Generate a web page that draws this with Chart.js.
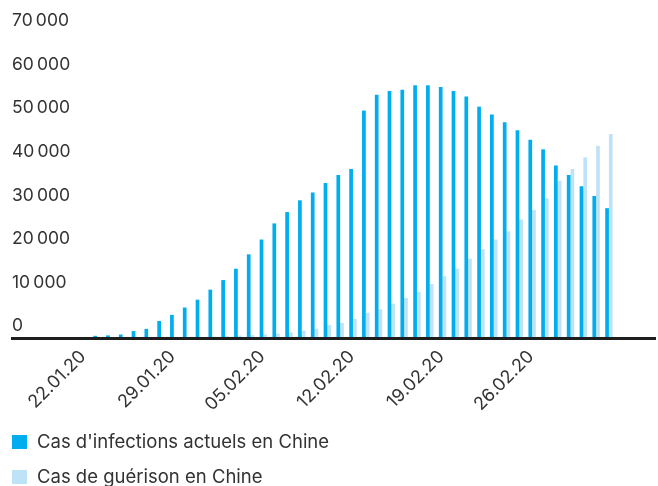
<!DOCTYPE html>
<html>
<head>
<meta charset="utf-8">
<script src="https://cdn.jsdelivr.net/npm/chart.js@4"></script>
<style>
  html, body { margin: 0; padding: 0; background: #fff; }
  #wrap { width: 658px; height: 486px; }
</style>
</head>
<body>
<div id="wrap"><canvas id="chart"></canvas></div>
<script>
const dates = [
  '22.01.20', '23.01.20', '24.01.20', '25.01.20', '26.01.20', '27.01.20', '28.01.20',
  '29.01.20', '30.01.20', '31.01.20', '01.02.20', '02.02.20', '03.02.20', '04.02.20',
  '05.02.20', '06.02.20', '07.02.20', '08.02.20', '09.02.20', '10.02.20', '11.02.20',
  '12.02.20', '13.02.20', '14.02.20', '15.02.20', '16.02.20', '17.02.20', '18.02.20',
  '19.02.20', '20.02.20', '21.02.20', '22.02.20', '23.02.20', '24.02.20', '25.02.20',
  '26.02.20', '27.02.20', '28.02.20', '29.02.20', '01.03.20', '02.03.20'
];

const infections = [
  500, 600, 800, 1600, 2100, 3900, 5300, 7000, 8800, 11100,
  13300, 15900, 19200, 22600, 26300, 28900, 31600, 33400, 35600, 37400,
  38800, 52200, 55800, 56700, 57000, 58000, 58000, 57600, 56700, 55400,
  53100, 51300, 49500, 47700, 45500, 43300, 39600, 37400, 34800, 32600,
  29800
];

const recoveries = [
  30, 30, 40, 40, 50, 60, 100, 120, 250, 330,
  450, 580, 680, 800, 1000, 1300, 1700, 2150, 3000, 3450,
  4400, 5800, 6600, 7900, 9200, 10600, 12400, 14200, 15900, 18200,
  20400, 22600, 24500, 27200, 29400, 32100, 36100, 38800, 41500, 44100,
  46800
];

const seriesNames = ["Cas d'infections actuels en Chine", 'Cas de guérison en Chine'];
const seriesColors = ['#00aeef', '#bfe3f6'];
const labelEvery = 7;
const yTicks = [0, 10000, 20000, 30000, 40000, 50000, 60000, 70000];

const FONT = 'Inter, "Noto Sans", sans-serif';
const TEXT = '#333333';

// legend drawn as two stacked rows under the axis labels
const stackedLegend = {
  id: 'stackedLegend',
  afterDraw(chart) {
    const ctx = chart.ctx;
    ctx.save();
    ctx.font = '18.5px ' + FONT;
    ctx.textBaseline = 'middle';
    ctx.textAlign = 'left';
    chart.data.datasets.forEach((ds, i) => {
      const y = 442 + i * 35;
      ctx.fillStyle = ds.backgroundColor;
      ctx.fillRect(12, y - 7, 15, 14);
      ctx.fillStyle = TEXT;
      ctx.fillText(ds.label, 37, y);
    });
    ctx.restore();
  }
};

const ctx = document.getElementById('chart').getContext('2d');
new Chart(ctx, {
  type: 'bar',
  data: {
    datasets: [
      {
        label: seriesNames[0],
        data: infections.map((v, i) => ({ x: i, y: v })),
        backgroundColor: seriesColors[0]
      },
      {
        label: seriesNames[1],
        data: recoveries.map((v, i) => ({ x: i, y: v })),
        backgroundColor: seriesColors[1]
      }
    ]
  },
  options: {
    responsive: true,
    maintainAspectRatio: false,
    animation: false,
    datasets: {
      bar: { categoryPercentage: 0.58, barPercentage: 1 }
    },
    layout: { padding: { left: 12, right: 3, top: 33, bottom: 70 } },
    plugins: {
      legend: { display: false },
      tooltip: { enabled: false }
    },
    scales: {
      x: {
        type: 'linear',
        min: -6.64,
        max: 43.6,
        offset: false,
        grid: { display: false },
        border: { display: true, color: '#1e1e1e', width: 3, z: 1 },
        afterBuildTicks: s => {
          s.ticks = dates.map((d, i) => i).filter(i => i % labelEvery === 0).map(v => ({ value: v }));
        },
        afterFit: s => { s.height = 78; },
        ticks: {
          autoSkip: false,
          minRotation: 45,
          maxRotation: 45,
          padding: 0,
          labelOffset: -14,
          color: TEXT,
          font: { family: FONT, size: 18 },
          callback: v => dates[v]
        }
      },
      y: {
        min: 0,
        max: 70000,
        grid: { display: false },
        border: { display: false },
        afterBuildTicks: s => { s.ticks = yTicks.map(v => ({ value: v })); },
        afterFit: s => { s.width = 0; },
        ticks: {
          mirror: true,
          padding: 0,
          labelOffset: -12,
          color: TEXT,
          font: { family: FONT, size: 17.5 },
          callback: v => String(v).replace(/\B(?=(\d{3})+(?!\d))/g, '\u2009')
        }
      }
    }
  },
  plugins: [stackedLegend]
});
</script>
</body>
</html>
